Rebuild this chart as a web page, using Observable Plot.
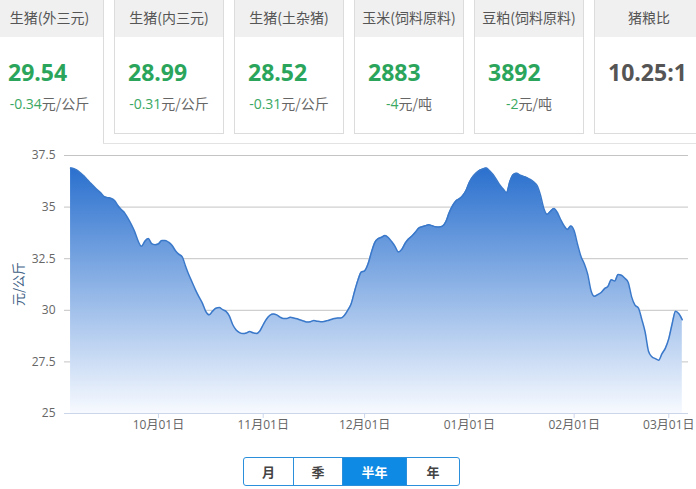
<!DOCTYPE html>
<html>
<head>
<meta charset="utf-8">
<script src="https://cdn.jsdelivr.net/npm/d3@7"></script>
<script src="https://cdn.jsdelivr.net/npm/@observablehq/plot@0.6"></script>
<style>
  html, body { margin: 0; padding: 0; background: #fff; }
  body { width: 696px; height: 489px; overflow: hidden; position: relative;
         font-family: "Open Sans", "Noto Sans CJK SC", sans-serif; }
  .card { position: absolute; top: 0; width: 110px; height: 134px; box-sizing: border-box;
          border: 1px solid #dcdcdc; border-top: none; background: #fff; }
  .card .hd { height: 37px; background: #f0f0f0; color: #555; font-size: 14px;
              line-height: 35px; text-align: center; font-family: "Noto Sans CJK SC", sans-serif; }
  .card .val { position: absolute; left: 13px; top: 57px; font-size: 23px; font-weight: bold;
               color: #2ba55b; line-height: 30px; }
  .card .chg { position: absolute; left: 0; right: 0; top: 94px; text-align: center; font-size: 14px;
               line-height: 18px; color: #666; font-family: "Noto Sans CJK SC", sans-serif; }
  .card .chg span { color: #3aa862; font-family: "Open Sans", sans-serif; }
  #frameV { position: absolute; left: 103px; top: 0; width: 1px; height: 144px; background: #dcdcdc; }
  #frameH { position: absolute; left: 103px; top: 143px; width: 593px; height: 1px; background: #e3e3e3; }
  #chart { position: absolute; left: 0; top: 144px; }
  #ylab { position: absolute; left: 17px; top: 284px; transform: translate(-50%, -50%) rotate(-90deg);
          font-size: 13px; color: #3f5f85; white-space: nowrap; font-family: "Noto Sans CJK SC", sans-serif; }
  #btns { position: absolute; left: 243px; top: 457px; height: 29px; display: flex;
          border: 1px solid #2b8fdb; border-radius: 3px; box-sizing: border-box; overflow: hidden; }
  #btns div { height: 27px; line-height: 27px; text-align: center; font-size: 13px; font-weight: bold;
              color: #444; border-left: 1px solid #2b8fdb; box-sizing: border-box;
              font-family: "Noto Sans CJK SC", sans-serif; }
  #btns div:first-child { border-left: none; }
  #btns div.on { background: #0f8ae4; color: #fff; }
</style>
</head>
<body>
<div id="cards"></div>
<div id="frameV"></div>
<div id="frameH"></div>
<div id="chart"></div>
<div id="ylab"></div>
<div id="btns"></div>
<script>
// ---- Cards ----
const cardTitles = ["生猪(外三元)", "生猪(内三元)", "生猪(土杂猪)", "玉米(饲料原料)", "豆粕(饲料原料)", "猪粮比"];
const cardValues = ["29.54", "28.99", "28.52", "2883", "3892", "10.25:1"];
const cardChanges = ["-0.34", "-0.31", "-0.31", "-4", "-2", ""];
const cardUnits = ["元/公斤", "元/公斤", "元/公斤", "元/吨", "元/吨", ""];

// ---- Chart data (daily, 2020-09-05 .. 2021-03-05) ----
const startDate = "2020-09-05";
const prices = [
  36.89, 36.86, 36.78, 36.65, 36.50, 36.32, 36.15, 35.98, 35.82, 35.68,
  35.50, 35.46, 35.42, 35.32, 35.08, 34.88, 34.72, 34.45, 34.15, 33.80,
  33.35, 33.10, 33.35, 33.48, 33.23, 33.18, 33.22, 33.38, 33.38, 33.30,
  33.15, 32.90, 32.72, 32.60, 32.15, 31.72, 31.35, 30.98, 30.65, 30.35,
  29.95, 29.78, 29.95, 30.10, 30.13, 30.03, 29.95, 29.72, 29.30, 29.05,
  28.92, 28.87, 28.90, 28.97, 28.91, 28.88, 29.00, 29.30, 29.58, 29.76,
  29.82, 29.78, 29.67, 29.60, 29.60, 29.66, 29.63, 29.59, 29.53, 29.48,
  29.43, 29.45, 29.50, 29.47, 29.45, 29.46, 29.50, 29.55, 29.60, 29.63,
  29.63, 29.75, 30.00, 30.30, 30.90, 31.45, 31.85, 31.91, 32.24, 32.80,
  33.28, 33.47, 33.54, 33.62, 33.53, 33.33, 33.10, 32.82, 32.95, 33.25,
  33.46, 33.60, 33.78, 33.98, 34.05, 34.10, 34.14, 34.10, 34.05, 34.04,
  34.07, 34.28, 34.72, 35.06, 35.30, 35.40, 35.55, 35.80, 36.20, 36.47,
  36.65, 36.78, 36.85, 36.89, 36.76, 36.58, 36.33, 36.07, 35.88, 35.70,
  36.25, 36.58, 36.64, 36.55, 36.49, 36.43, 36.34, 36.22, 36.05, 35.60,
  34.95, 34.65, 34.80, 34.93, 34.75, 34.40, 34.10, 33.92, 34.08, 33.85,
  33.20, 32.62, 32.25, 31.75, 30.95, 30.68, 30.76, 30.86, 31.05, 31.16,
  31.48, 31.42, 31.74, 31.70, 31.55, 31.35, 30.65, 30.25, 30.12, 29.57,
  28.95, 28.02, 27.75, 27.66, 27.58, 27.90, 28.17, 28.63, 29.35, 29.96,
  29.83, 29.54
];
const yTicks = [25, 27.5, 30, 32.5, 35, 37.5];
const xTickDates = ["2020-10-01", "2020-11-01", "2020-12-01", "2021-01-01", "2021-02-01", "2021-03-01"];
const yLabel = "元/公斤";
const periods = ["月", "季", "半年", "年"];
const activePeriod = "半年";

// cards
const cardsEl = document.getElementById("cards");
cardTitles.forEach((t, i) => {
  const c = document.createElement("div");
  c.className = "card";
  c.style.left = (-6 + 120 * i) + "px";
  if (i === 0) { c.style.borderBottom = "none"; c.style.borderRight = "none"; c.style.height = "144px"; }
  const hd = document.createElement("div"); hd.className = "hd"; hd.textContent = t; c.appendChild(hd);
  const v = document.createElement("div"); v.className = "val"; v.textContent = cardValues[i];
  if (!cardChanges[i]) v.style.color = "#555";
  c.appendChild(v);
  if (cardChanges[i]) {
    const ch = document.createElement("div"); ch.className = "chg";
    const s = document.createElement("span"); s.textContent = cardChanges[i];
    ch.appendChild(s); ch.appendChild(document.createTextNode(cardUnits[i]));
    c.appendChild(ch);
  }
  cardsEl.appendChild(c);
});

// chart
const parse = d3.utcParse("%Y-%m-%d");
const start = parse(startDate);
const data = prices.map((v, i) => ({date: d3.utcDay.offset(start, i), value: v}));
const end = data[data.length - 1].date;
const ticksX = xTickDates.map(parse);

const chart = Plot.plot({
  width: 696,
  height: 296,
  marginTop: 11,
  marginBottom: 27,
  marginLeft: 64,
  marginRight: 8,
  style: {fontFamily: "'Open Sans', 'Noto Sans CJK SC', sans-serif", fontSize: "12px", background: "transparent"},
  x: {type: "utc", domain: [d3.utcHour.offset(start, -43), d3.utcHour.offset(end, 44)]},
  y: {domain: [25, 37.5]},
  marks: [
    Plot.gridY(yTicks, {stroke: "#c4c4c4", strokeOpacity: 1}),
    Plot.areaY(data, {x: "date", y1: 25, y2: "value", fill: "url(#areaGrad)", curve: "monotone-x"}),
    Plot.lineY(data, {x: "date", y: "value", stroke: "#3a78c9", strokeWidth: 1.5, curve: "monotone-x"}),
    Plot.ruleY([25], {stroke: "#ccd6eb", strokeWidth: 1}),
    Plot.axisX(ticksX, {tickFormat: d3.utcFormat("%m月%d日"), tickSize: 5, tickPadding: 2, stroke: "#ccd6eb", fill: "#666", label: null}),
    Plot.axisY(yTicks, {tickFormat: d => String(d), tickSize: 0, tickPadding: 9, fill: "#666", label: null})
  ]
});
d3.select(chart).insert("defs", ":first-child").html(
  '<linearGradient id="areaGrad" x1="0" y1="0" x2="0" y2="1">' +
  '<stop offset="0" stop-color="#2a70ce"/><stop offset="1" stop-color="#f7faff"/></linearGradient>');
document.getElementById("chart").appendChild(chart);
document.getElementById("ylab").textContent = yLabel;

// buttons
const widths = [49, 49, 64, 53];
const btns = document.getElementById("btns");
periods.forEach((p, i) => {
  const b = document.createElement("div");
  b.textContent = p;
  b.style.width = widths[i] + "px";
  if (p === activePeriod) b.className = "on";
  btns.appendChild(b);
});
</script>
</body>
</html>
